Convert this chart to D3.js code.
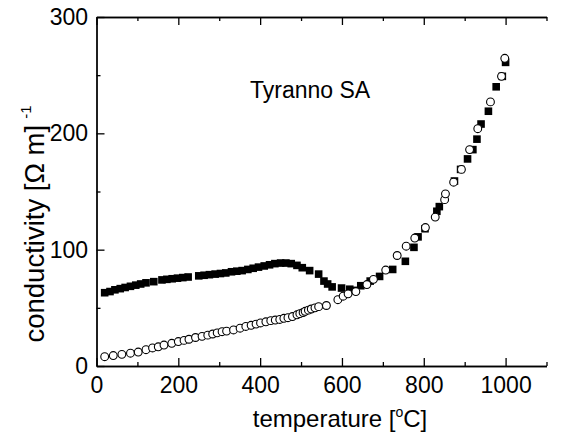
<html>
  <head>
    <title>Tyranno SA conductivity</title>
    <script type="text/javascript" src="https://cdn.jsdelivr.net/npm/d3@7/dist/d3.min.js" charset="utf-8"></script>
    <style>
      body { margin: 0; background: #fff; }
      svg { display: block; font-family: "Liberation Sans", Arial, sans-serif; }
      .axis path, .axis line { stroke: #000; stroke-width: 1.3; }
      .axis text { font-size: 23px; fill: #000; }
    </style>
  </head>
  <body>
    <div id="main"></div>
  <script>
    // filled squares: temperature [C]
    var squareT = [20, 33, 45, 58, 70, 83, 96, 108, 121, 140, 160, 172, 185, 198, 211, 224, 250, 263, 276, 290,
      303, 316, 330, 343, 356, 370, 383, 396, 410, 423, 436, 450, 463, 476, 490, 503, 521, 543, 556, 565,
      576, 599, 619, 632, 646, 669, 692, 724, 755, 776, 786, 803, 832, 838, 875, 890, 907, 920, 930, 940,
      958, 977, 992, 1000];
    // filled squares: conductivity
    var squareS = [63, 64, 65.5, 66.5, 67.5, 68.5, 69.5, 70.5, 71.5, 72.5, 74, 74.5, 75, 75.5, 76, 76.5, 77.5, 78, 78.5, 79,
      79.5, 80, 81, 81.5, 82, 83, 84, 85, 86, 87, 88, 88.5, 88.5, 88, 86.5, 84.5, 82, 79, 73, 70.5,
      68, 67, 66, 65, 69, 73, 77, 83, 90, 102, 111, 118, 133, 137, 159, 169, 178, 186, 195, 208,
      219, 240, 249, 261];

    // open circles: temperature [C]
    var circleT = [20, 41, 62, 83, 102, 121, 137, 151, 165, 184, 200, 214, 226, 242, 258, 272, 284, 295, 307, 318,
      335, 351, 365, 378, 390, 401, 414, 426, 437, 448, 458, 468, 479, 490, 497, 505, 510, 518, 525, 534,
      543, 562, 590, 603, 615, 634, 661, 677, 707, 735, 757, 778, 804, 828, 851, 853, 873, 892, 912, 932,
      963, 990, 998];
    // open circles: conductivity
    var circleS = [8, 9, 10, 11, 12, 14, 15.5, 16.5, 18, 19.5, 21, 22, 23, 24.5, 25.5, 26.5, 27.5, 28.5, 29.5, 30,
      31, 32.5, 34, 35, 36, 37, 38, 39, 39.5, 40, 41, 41.5, 42.5, 44, 45, 46, 47, 48, 49, 50,
      51, 52, 57, 60, 62, 64, 70, 74.5, 82.5, 95, 103, 110, 119, 128, 143, 148, 158, 169, 186, 204,
      227, 249, 264.5];

    var xMajor = [0, 200, 400, 600, 800, 1000];
    var xMinor = [100, 300, 500, 700, 900, 1100];
    var yMajor = [0, 100, 200, 300];
    var yMinor = [50, 150, 250];

    var svgWidth = 566;
    var svgHeight = 438;

    var svg = d3.select("#main")
          .append("svg")
          .attr("width", svgWidth)
          .attr("height", svgHeight);

    var x = d3.scaleLinear().domain([0, 1100]).range([96.5, 546.5]);
    var y = d3.scaleLinear().domain([0, 300]).range([366, 17]);

    // bottom axis
    svg.append("g").attr("class", "axis")
      .attr("transform", "translate(0," + y(0) + ")")
      .call(d3.axisBottom(x).tickValues(xMajor).tickSizeInner(-8).tickSizeOuter(0).tickPadding(10.5).tickFormat(d3.format("d")));
    svg.append("g").attr("class", "axis")
      .attr("transform", "translate(0," + y(0) + ")")
      .call(d3.axisBottom(x).tickValues(xMinor).tickSizeInner(-4).tickSizeOuter(0).tickFormat(""));

    // top axis, ticks only
    svg.append("g").attr("class", "axis")
      .attr("transform", "translate(0," + y(300) + ")")
      .call(d3.axisTop(x).tickValues(xMajor).tickSizeInner(-8).tickSizeOuter(0).tickFormat(""));
    svg.append("g").attr("class", "axis")
      .attr("transform", "translate(0," + y(300) + ")")
      .call(d3.axisTop(x).tickValues(xMinor).tickSizeInner(-4).tickSizeOuter(0).tickFormat(""));

    // left axis
    svg.append("g").attr("class", "axis")
      .attr("transform", "translate(" + x(0) + ",0)")
      .call(d3.axisLeft(y).tickValues(yMajor).tickSizeInner(-8).tickSizeOuter(0).tickPadding(8.5));
    svg.append("g").attr("class", "axis")
      .attr("transform", "translate(" + x(0) + ",0)")
      .call(d3.axisLeft(y).tickValues(yMinor).tickSizeInner(-4).tickSizeOuter(0).tickFormat(""));

    // squares first, circles drawn on top
    svg.selectAll("rect.sq")
      .data(d3.range(squareT.length))
      .enter()
      .append("rect")
      .attr("class", "sq")
      .attr("x", function(i) { return x(squareT[i]) - 3.8; })
      .attr("y", function(i) { return y(squareS[i]) - 3.8; })
      .attr("width", 7.6)
      .attr("height", 7.6)
      .style("fill", "#000");

    svg.selectAll("circle.ci")
      .data(d3.range(circleT.length))
      .enter()
      .append("circle")
      .attr("class", "ci")
      .attr("cx", function(i) { return x(circleT[i]); })
      .attr("cy", function(i) { return y(circleS[i]); })
      .attr("r", 3.9)
      .style("fill", "#fff")
      .style("stroke", "#000")
      .style("stroke-width", 1.1);

    // sample name
    svg.append("text")
      .attr("x", 250)
      .attr("y", 98)
      .style("font-size", "23px")
      .text("Tyranno SA");

    // x title
    var xt = svg.append("text")
      .attr("x", 340)
      .attr("y", 427)
      .attr("text-anchor", "middle")
      .style("font-size", "24px");
    xt.append("tspan").text("temperature [");
    xt.append("tspan").attr("dy", -10).style("font-size", "14px").text("o");
    xt.append("tspan").attr("dy", 10).text("C]");

    // y title
    var yt = svg.append("text")
      .attr("transform", "translate(44," + 224 + ") rotate(-90)")
      .attr("text-anchor", "middle")
      .style("font-size", "27.5px");
    yt.append("tspan").text("conductivity [\u03A9 m]");
    yt.append("tspan").attr("dx", 6).attr("dy", -13).style("font-size", "15px").text("-1");
  </script>
  </body>
</html>
